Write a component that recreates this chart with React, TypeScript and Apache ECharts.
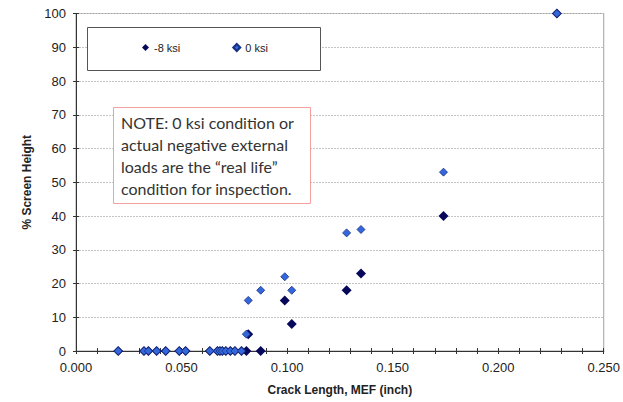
import React, { useEffect, useRef } from "react";
import * as echarts from "echarts";

// Crack length (inch), one entry per specimen; both load conditions share them
const crackLength = [
  0.02, 0.0322, 0.0343, 0.0382, 0.0425, 0.0489, 0.0519, 0.0634, 0.067, 0.0682,
  0.0693, 0.071, 0.0731, 0.0753, 0.0784, 0.0807, 0.0816, 0.0875, 0.0989, 0.1022,
  0.1282, 0.135, 0.1741, 0.2278,
];
// % screen height at -8 ksi
const heightMinus8 = [
  0, 0, 0, 0, 0, 0, 0, 0, 0, 0, 0, 0, 0, 0, 0, 0, 5, 0, 15, 8, 18, 23, 40, 100,
];
// % screen height at 0 ksi
const heightZero = [
  0, 0, 0, 0, 0, 0, 0, 0, 0, 0, 0, 0, 0, 0, 0, 5, 15, 18, 22, 18, 35, 36, 53, 100,
];
const seriesNames = ["-8 ksi", "0 ksi"];
const noteLines = [
  "NOTE: 0 ksi condition or",
  "actual negative external",
  "loads are the \u201creal life\u201d",
  "condition for inspection.",
];

const FONT = "'Liberation Sans', Arial, sans-serif";
const DARK = "#08085a";
const LIGHT = "#3466dc";

export default function App() {
  const ref = useRef<HTMLDivElement>(null);

  useEffect(() => {
    if (!ref.current) return;
    const chart = echarts.init(ref.current, undefined, { renderer: "svg" });

    const baseX = {
      type: "value" as const,
      min: 0,
      max: 0.25,
      interval: 0.05,
      position: "bottom" as const,
      axisLine: { show: true, lineStyle: { color: "#333", width: 1 } },
      splitLine: { show: false },
    };
    const baseY = {
      type: "value" as const,
      min: 0,
      max: 100,
      interval: 10,
      position: "left" as const,
      axisLine: { show: true, lineStyle: { color: "#333", width: 1 } },
    };

    chart.setOption({
      animation: false,
      backgroundColor: "#fff",
      grid: {
        left: 76,
        right: 17,
        top: 13.5,
        bottom: 51,
        show: true,
        borderColor: "#a0a0a0",
        borderWidth: 1,
      },
      legend: {
        data: seriesNames,
        left: 142,
        top: 42,
        padding: 0,
        icon: "diamond",
        itemWidth: 7,
        itemHeight: 7,
        itemGap: 52,
        z: 20,
        textStyle: { fontFamily: FONT, fontSize: 11, color: "#222" },
      },
      xAxis: [
        {
          ...baseX,
          axisTick: { show: true, inside: false, length: 3, lineStyle: { color: "#333" } },
          minorTick: { show: true, splitNumber: 5, length: 3, lineStyle: { color: "#333" } },
          axisLabel: {
            formatter: (v: number) => v.toFixed(3),
            fontFamily: FONT,
            fontSize: 13,
            color: "#222",
            margin: 10,
          },
          name: "Crack Length, MEF (inch)",
          nameLocation: "middle",
          nameGap: 33,
          nameTextStyle: { fontFamily: FONT, fontSize: 12, fontWeight: "bold", color: "#222" },
        },
        {
          ...baseX,
          axisTick: { show: true, inside: true, length: 3, lineStyle: { color: "#333" } },
          minorTick: { show: true, splitNumber: 5, length: 3, lineStyle: { color: "#333" } },
          axisLabel: { show: false },
        },
      ],
      yAxis: [
        {
          ...baseY,
          axisTick: { show: true, inside: false, length: 3, lineStyle: { color: "#333" } },
          axisLabel: { fontFamily: FONT, fontSize: 13, color: "#222", margin: 10 },
          splitLine: { show: true, lineStyle: { color: "#c4c4c4", type: [2, 1], width: 1 } },
          name: "% Screen Height",
          nameLocation: "middle",
          nameGap: 41,
          nameTextStyle: { fontFamily: FONT, fontSize: 12, fontWeight: "bold", color: "#222" },
        },
        {
          ...baseY,
          axisTick: { show: true, inside: true, length: 3, lineStyle: { color: "#333" } },
          axisLabel: { show: false },
          splitLine: { show: false },
        },
      ],
      series: [
        {
          name: seriesNames[0],
          type: "scatter",
          symbol: "diamond",
          symbolSize: 10,
          itemStyle: { color: DARK, opacity: 1 },
          data: crackLength.map((x, i) => [x, heightMinus8[i]]),
          z: 3,
        },
        {
          name: seriesNames[1],
          type: "scatter",
          symbol: "diamond",
          symbolSize: 8,
          itemStyle: { color: LIGHT, borderColor: "#15307f", borderWidth: 0.8, opacity: 1 },
          data: crackLength.map((x, i) => [x, heightZero[i]]),
          z: 4,
        },
      ],
      graphic: [
        {
          type: "rect",
          z: 10,
          shape: { x: 87.5, y: 27.5, width: 233, height: 43 },
          style: { fill: "#fff", stroke: "#555", lineWidth: 1 },
        },
        {
          type: "rect",
          z: 10,
          shape: { x: 113.5, y: 107.5, width: 197, height: 96 },
          style: { fill: "#fff", stroke: "#f3a0a0", lineWidth: 1 },
        },
        {
          type: "text",
          z: 11,
          x: 121,
          y: 111,
          style: {
            text: noteLines.join("\n"),
            fontFamily: "Lato, 'Noto Sans', sans-serif",
            fontSize: 16,
            lineHeight: 22,
            fill: "#333",
          },
        },
      ],
    });

    return () => chart.dispose();
  }, []);

  return <div ref={ref} style={{ width: 623, height: 402, position: "absolute", left: 0, top: 0 }} />;
}
